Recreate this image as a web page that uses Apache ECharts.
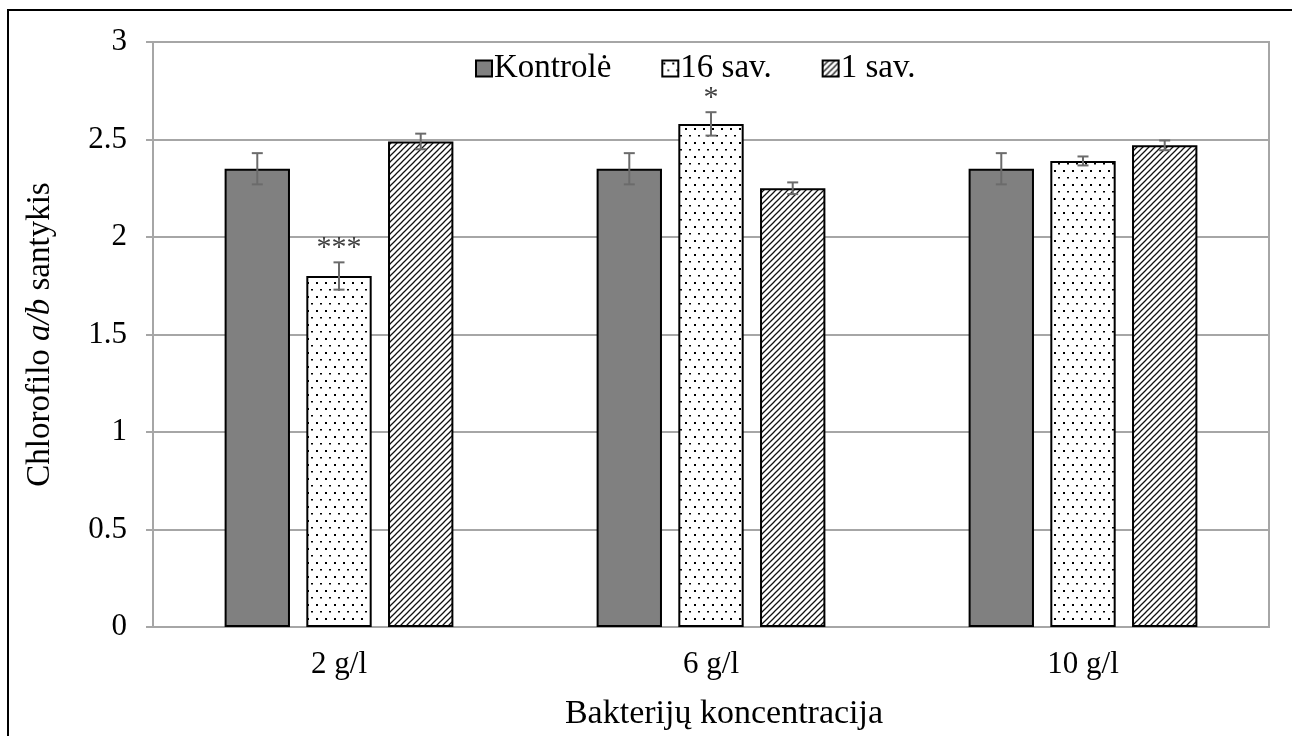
<!DOCTYPE html>
<html>
<head>
<meta charset="utf-8">
<script src="https://cdn.jsdelivr.net/npm/echarts@6/dist/echarts.min.js"></script>
<style>
  html, body { margin: 0; padding: 0; background: #fff; }
  #chart { width: 1292px; height: 736px; }
</style>
</head>
<body>
<div id="chart"></div>
<script>
// Bacterial concentration groups
const categories = ['2 g/l', '6 g/l', '10 g/l'];

// Chlorophyll a/b ratio per treatment, with error bar half-widths
const kontrole = [2.35, 2.35, 2.35];
const kontroleErr = [0.08, 0.08, 0.08];
const sav16 = [1.80, 2.58, 2.39];
const sav16Err = [0.07, 0.06, 0.023];
const sav1 = [2.49, 2.25, 2.47];
const sav1Err = [0.04, 0.03, 0.025];

// Significance marks above the "16 sav." bars
const sav16Stars = ['***', '*', ''];

const yTicks = [0, 0.5, 1, 1.5, 2, 2.5, 3];

const FONT = '"Liberation Serif", "Times New Roman", serif';
const BAR_CAT_GAP = 0.385;
const BAR_GAP = 0.25;
const N_SERIES = 3;

// Fill patterns
function dotPattern() {
  const c = document.createElement('canvas');
  c.width = 9; c.height = 14;
  const g = c.getContext('2d');
  g.fillStyle = '#fff'; g.fillRect(0, 0, 9, 14);
  g.fillStyle = '#000';
  g.fillRect(1, 2, 2, 2);
  g.fillRect(5, 9, 2, 1.5);
  return c;
}
function hatchPattern() {
  const c = document.createElement('canvas');
  c.width = 6; c.height = 6;
  const g = c.getContext('2d');
  g.fillStyle = '#fff'; g.fillRect(0, 0, 6, 6);
  g.strokeStyle = '#111';
  g.lineWidth = 1.25;
  g.beginPath();
  g.moveTo(-1, 7); g.lineTo(7, -1);
  g.moveTo(-4, 4); g.lineTo(4, -4);
  g.moveTo(2, 10); g.lineTo(10, 2);
  g.stroke();
  return c;
}

const fills = [
  '#808080',
  { image: dotPattern(), repeat: 'repeat' },
  { image: hatchPattern(), repeat: 'repeat' }
];

function errSeries(k, values, errs, marks) {
  return {
    type: 'custom',
    name: 'err' + k,
    z: 5,
    silent: true,
    encode: { x: 0, y: 1 },
    data: values.map((v, i) => [i, v, errs[i]]),
    renderItem(params, api) {
      const i = api.value(0);
      const v = api.value(1);
      const e = api.value(2);
      const mark = marks ? marks[i] : '';
      const catW = api.size([1, 0])[0];
      const bw = catW * (1 - BAR_CAT_GAP) / (N_SERIES + (N_SERIES - 1) * BAR_GAP);
      const base = api.coord([i, v]);
      const cx = base[0] + (k - 1) * bw * (1 + BAR_GAP);
      const top = api.coord([i, v + e])[1];
      const bot = api.coord([i, v - e])[1];
      const cap = 5.5;
      const st = { stroke: '#6b6b6b', lineWidth: 2 };
      const children = [
        { type: 'line', shape: { x1: cx, y1: top, x2: cx, y2: bot }, style: st },
        { type: 'line', shape: { x1: cx - cap, y1: top, x2: cx + cap, y2: top }, style: st },
        { type: 'line', shape: { x1: cx - cap, y1: bot, x2: cx + cap, y2: bot }, style: st }
      ];
      if (mark) {
        children.push({
          type: 'text',
          style: {
            text: mark, x: cx, y: top + 1,
            align: 'center', verticalAlign: 'bottom',
            font: '30px ' + FONT, fill: '#404040'
          }
        });
      }
      return { type: 'group', children };
    }
  };
}

function barSeries(name, values, k) {
  return {
    type: 'bar',
    name,
    data: values,
    barCategoryGap: (BAR_CAT_GAP * 100) + '%',
    barGap: (BAR_GAP * 100) + '%',
    itemStyle: { color: fills[k], borderColor: '#000', borderWidth: 2 }
  };
}

const chart = echarts.init(document.getElementById('chart'), null, { renderer: 'canvas' });

chart.setOption({
  animation: false,
  backgroundColor: '#fff',
  textStyle: { fontFamily: FONT },
  graphic: [{
    type: 'rect',
    shape: { x: 8, y: 10, width: 1400, height: 1000 },
    style: { fill: 'none', stroke: '#000', lineWidth: 2 },
    silent: true
  }],
  legend: {
    data: ['Kontrolė', '16 sav.', '1 sav.'],
    left: 470,
    top: 47,
    itemWidth: 16,
    itemHeight: 16,
    itemGap: 50,
    icon: 'rect',
    textStyle: { fontFamily: FONT, fontSize: 33, color: '#000', padding: [0, 0, 0, -3] }
  },
  grid: {
    left: 153, right: 23, top: 42, bottom: 109,
    show: true, borderColor: '#a6a6a6', borderWidth: 2,
    containLabel: false
  },
  xAxis: {
    type: 'category',
    data: categories,
    axisLine: { lineStyle: { color: '#a6a6a6', width: 2 } },
    axisTick: { show: false },
    axisLabel: { fontFamily: FONT, fontSize: 31, color: '#000', margin: 22 },
    name: 'Bakterijų koncentracija',
    nameLocation: 'middle',
    nameGap: 70,
    nameTextStyle: { fontFamily: FONT, fontSize: 34, color: '#000', padding: [0, 0, 0, 26] }
  },
  yAxis: {
    type: 'value',
    min: yTicks[0],
    max: yTicks[yTicks.length - 1],
    interval: yTicks[1] - yTicks[0],
    axisLine: { show: true, lineStyle: { color: '#a6a6a6', width: 2 } },
    axisTick: { show: true, length: 7, lineStyle: { color: '#a6a6a6', width: 2 } },
    splitLine: { lineStyle: { color: '#a6a6a6', width: 2 } },
    axisLabel: { fontFamily: FONT, fontSize: 31, color: '#000', margin: 26 },
    name: '{n|Chlorofilo }{i|a/b}{n| santykis}',
    nameLocation: 'middle',
    nameGap: 96,
    nameTextStyle: {
      rich: {
        n: { fontFamily: FONT, fontSize: 33, color: '#000' },
        i: { fontFamily: FONT, fontSize: 33, color: '#000', fontStyle: 'italic' }
      }
    }
  },
  series: [
    barSeries('Kontrolė', kontrole, 0),
    barSeries('16 sav.', sav16, 1),
    barSeries('1 sav.', sav1, 2),
    errSeries(0, kontrole, kontroleErr, null),
    errSeries(1, sav16, sav16Err, sav16Stars),
    errSeries(2, sav1, sav1Err, null)
  ]
});
</script>
</body>
</html>
